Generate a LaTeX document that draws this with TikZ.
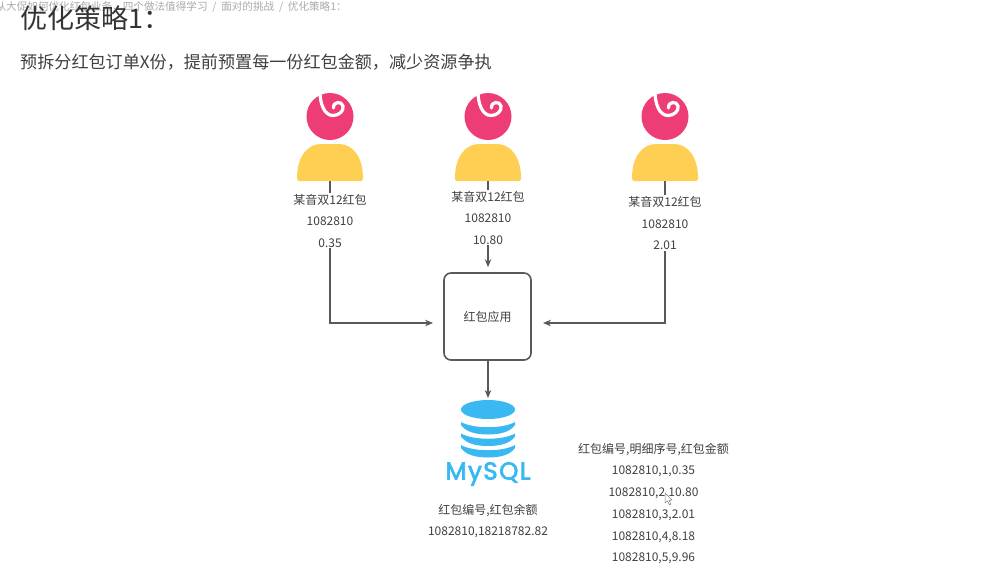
\documentclass[tikz,border=0pt]{standalone}
\usepackage{fontspec}
\setmainfont{Noto Sans CJK SC}
\newfontfamily\logofont[LetterSpace=6, FakeBold=3]{Poppins}
\usetikzlibrary{arrows.meta, calc, positioning}
\usepackage{xcolor}
\definecolor{headpink}{RGB}{238, 60, 117}
\definecolor{bodyyellow}{RGB}{255, 207, 84}
\definecolor{mysqlblue}{RGB}{57, 184, 242}
\definecolor{linegray}{RGB}{89, 89, 89}
\definecolor{textgray}{RGB}{64, 64, 64}
\definecolor{crumbgray}{RGB}{170, 170, 170}
\newcommand{\person}[2]{
	\begin{scope}[shift={(#2,0)}]
		\node[headdot] (#1head) at (0,116.5) {};
		\draw[white, line width=3.2pt, line cap=round] (-10,92) .. controls (-10,103) and (-6,115.5) .. (3,115.5)
		.. controls (9,115.5) and (14,111) .. (13,106) .. controls (12,101) and (3,101) .. (3.5,108);
		\fill[bodyyellow] (-33,178) .. controls (-33,156) and (-22,144) .. (-9,144) -- (9,144)
		.. controls (22,144) and (33,156) .. (33,178) .. controls (33,180) and (32,181) .. (31,181)
		-- (-31,181) .. controls (-32,181) and (-33,180) .. (-33,178) -- cycle;
		\coordinate (#1) at (0,181);
	\end{scope}
}
\newcommand{\dbband}[1]{
	\fill[mysqlblue] (461,#1) .. controls (473,#1+7) and (503,#1+7) .. (515,#1)
	-- (515,#1+3) .. controls (510,#1+10) and (500,#1+12.5) .. (488,#1+12.5)
	.. controls (476,#1+12.5) and (466,#1+10) .. (461,#1+3) -- cycle;
}

\begin{document}
\begin{tikzpicture}[
				x=1pt, y=-1pt,
				infotext/.style={fill=white, align=center, text=textgray, inner sep=1pt,
					font=\fontsize{12}{21.5}\selectfont},
				plaintext/.style={align=center, text=textgray, inner sep=0pt,
					font=\fontsize{12}{21.7}\selectfont},
				headdot/.style={circle, fill=headpink, minimum size=47pt, inner sep=0pt},
				appbox/.style={draw=linegray, line width=1.6pt, rounded corners=7pt,
					minimum width=87pt, minimum height=87pt, align=center, text=textgray,
					font=\fontsize{12}{14}\selectfont},
				arr/.style={-{Stealth[length=8pt, width=6.5pt]}, line width=1.6pt, draw=linegray}
				]
				\useasboundingbox (0,0) rectangle (992,571);
				\fill[white] (0,0) rectangle (992,571);
				\node[anchor=east, inner sep=0pt, text=crumbgray, font=\fontsize{10.6}{12}\selectfont] (crumb) at (347,6.5)
				{从大促如何优化红包业务，四个做法值得学习\ \ /\ \ 面对的挑战\ \ /\ \ 优化策略1：};
				\node[anchor=west, inner sep=0pt, text=black!80, font=\fontsize{27}{32}\selectfont] (title) at (20,18) {优化策略1：};
				\node[anchor=west, inner sep=0pt, text=black!75, font=\fontsize{17.1}{20}\selectfont] (subtitle) at (20,62)
				{预拆分红包订单X份，提前预置每一份红包金额，减少资源争执};
				\person{userA}{330}
				\person{userB}{488}
				\person{userC}{665}
				\node[appbox] (app) at (487.5,316.5) {红包应用};
				\coordinate (inleft) at (433,323);
				\coordinate (inright) at (543,323);
				\coordinate (appout) at (488,360);
				\coordinate (db) at (488,398);
				\draw[arr] (userA) |- (inleft);
				\draw[arr, shorten >=5pt] (userB) -- (userB |- app.north);
				\draw[arr] (userC) |- (inright);
				\draw[arr] (appout) -- (db);
				\node[infotext] (labelA) at (330,220.5) {某音双12红包\\1082810\\0.35};
				\node[infotext] (labelB) at (488,217.5) {某音双12红包\\1082810\\10.80};
				\node[infotext] (labelC) at (665,223) {某音双12红包\\1082810\\2.01};
				\fill[mysqlblue] (488,409.5) ellipse (27 and 9.5);
				\dbband{422}
				\dbband{433.5}
				\dbband{445}
				\node[inner sep=0pt, text=mysqlblue, font=\logofont\fontsize{24.5}{28}\selectfont] (mysql) at (488,474) {MySQL};
				\node[plaintext] (balance) at (488,521) {红包编号,红包余额\\1082810,18218782.82};
				\node[plaintext] (detail) at (653.5,503.5)
				{红包编号,明细序号,红包金额\\1082810,1,0.35\\1082810,2,10.80\\1082810,3,2.01\\1082810,4,8.18\\1082810,5,9.96};
				\draw[fill=white, draw=black!50, line width=0.5pt] (665,493) -- (665,503) -- (667.5,501) -- (669.5,505) -- (671,504) -- (669,500.5) -- (672,500) -- cycle;
			\end{tikzpicture}
\end{document}
